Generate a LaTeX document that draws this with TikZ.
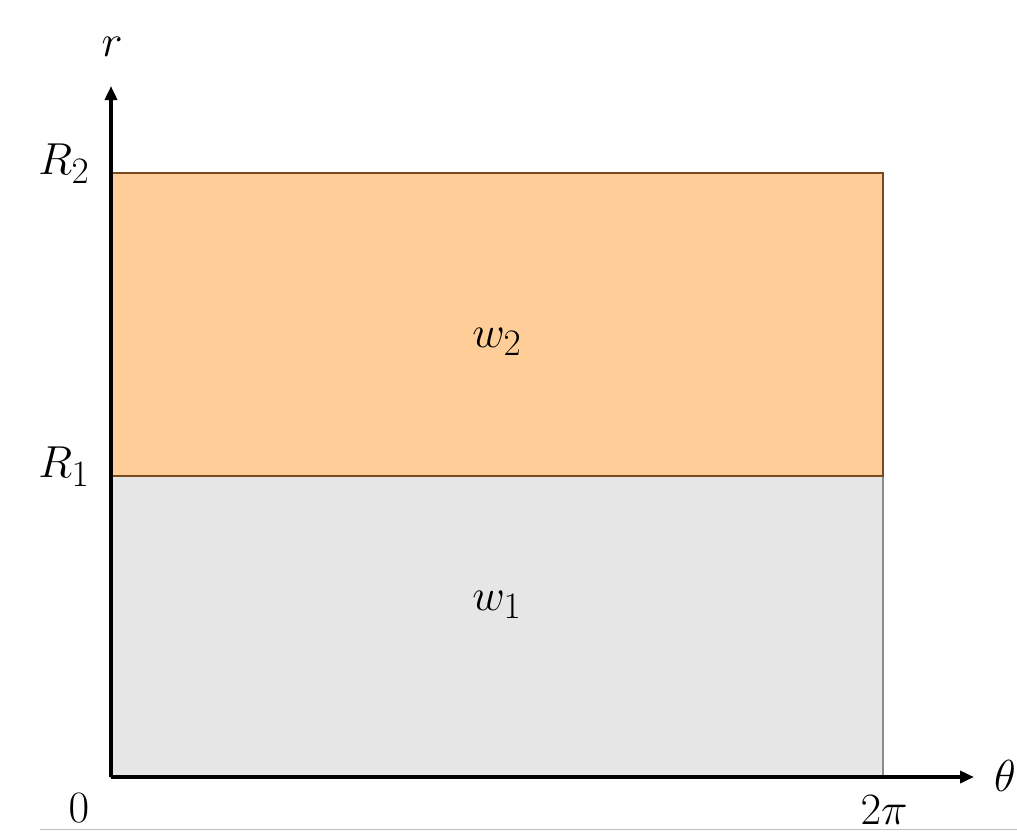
\documentclass[tikz,border=0pt]{standalone}
\usetikzlibrary{arrows.meta}
\definecolor{orangefill}{HTML}{FFCE98}
\definecolor{orangeedge}{HTML}{7A4A1E}
\definecolor{grayfill}{HTML}{E6E6E6}
\definecolor{grayedge}{HTML}{8C8C8C}
\newcommand{\biglbl}[1]{\scalebox{1.8}{\Huge$#1$}}
\begin{document}
\begin{tikzpicture}[x=1pt,y=-1pt,
  axis/.style={line width=3.5pt,-{Triangle[length=14pt,width=12pt]}},
  lbl/.style={inner sep=0pt}]
\useasboundingbox (0,0) rectangle (1017,836);
% regions
\filldraw[fill=grayfill,draw=grayedge,line width=1.5pt] (111,476) rectangle (883,777);
\filldraw[fill=orangefill,draw=orangeedge,line width=1.5pt] (111,173) rectangle (883,476);
% axes
\coordinate (O) at (111,777);
\coordinate (ytip) at (111,86);
\coordinate (xtip) at (974,777);
\draw[axis] (O) -- (ytip);
\draw[axis] (O) -- (xtip);
% bottom rule
\coordinate (b1) at (40,829.5);
\coordinate (b2) at (1017,829.5);
\draw[line width=1pt,color=black!25] (b1) -- (b2);
% labels
\node[lbl] (r) at (112,47) {\biglbl{r}};
\node[lbl] (R2) at (64,164) {\biglbl{R_2}};
\node[lbl] (R1) at (64,467) {\biglbl{R_1}};
\node[lbl] (zero) at (79,808) {\biglbl{0}};
\node[lbl] (twopi) at (884,810) {\biglbl{2\pi}};
\node[lbl] (theta) at (1005,776) {\biglbl{\theta}};
\node[lbl] (w2) at (497,342) {\biglbl{w_2}};
\node[lbl] (w1) at (497,605) {\biglbl{w_1}};
\end{tikzpicture}
\end{document}
